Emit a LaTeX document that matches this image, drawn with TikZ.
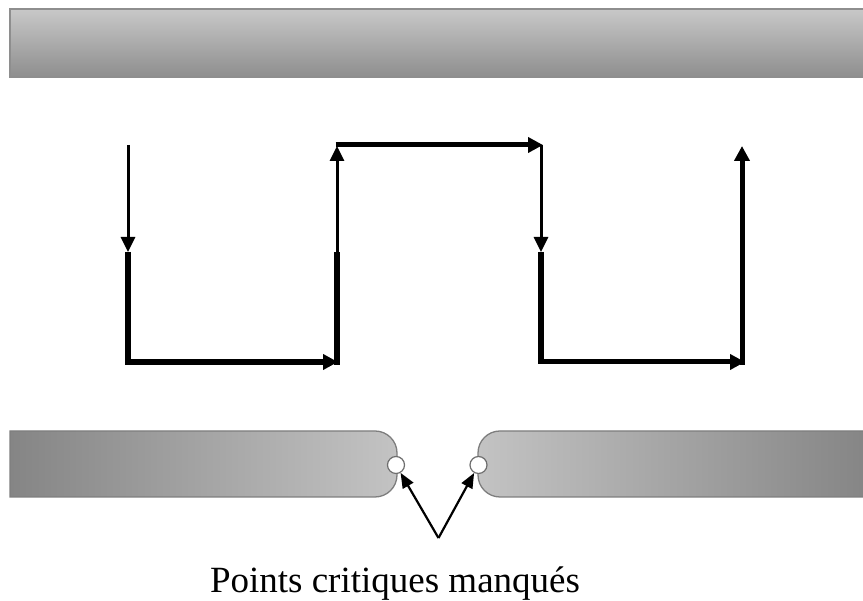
\documentclass[tikz,border=0pt]{standalone}
\usepackage{fontspec}
\setmainfont{Liberation Serif}
\usetikzlibrary{arrows.meta}

\definecolor{barlight}{HTML}{C8C8C8}
\definecolor{bardark}{HTML}{8E8E8E}
\definecolor{barside}{HTML}{858585}
\definecolor{barmid}{HTML}{C3C3C3}
\definecolor{baredge}{HTML}{7E7E7E}
\definecolor{ringedge}{HTML}{6E6E6E}

\tikzset{
  wavethin/.style={line width=3pt, -{Triangle[length=15pt,width=14pt]}},
  wavethick/.style={line width=5.4pt, line join=miter},
  wavearrow/.style={line width=5pt, line join=miter, -{Triangle[length=15pt,width=15pt]}},
  bar/.style={draw=baredge, line width=1.3pt},
  ring/.style={circle, draw=ringedge, fill=white, line width=1.2pt, minimum size=17pt, inner sep=0pt},
  pointer/.style={line width=2.2pt, -{Triangle[length=15pt,width=12pt]}},
  caption/.style={font=\fontsize{37}{40}\selectfont, inner sep=0pt, anchor=base}
}

\begin{document}
\begin{tikzpicture}[x=1pt, y=1pt]
  \useasboundingbox (0,0) rectangle (863,601);
  \fill[white] (0,0) rectangle (863,601);

  % upper plate
  \path[top color=barlight, bottom color=bardark, draw=bardark, line width=1.8pt]
    (10,592) rectangle (868,524);

  % lower plates with rounded inner ends
  \path[bar, left color=barside, right color=barmid]
    (10,170) -- (375,170) arc[start angle=90, end angle=0, radius=22]
    -- (397,126) arc[start angle=0, end angle=-90, radius=22]
    -- (10,104) -- cycle;
  \path[bar, left color=barmid, right color=barside]
    (868,170) -- (500,170) arc[start angle=90, end angle=180, radius=22]
    -- (478,126) arc[start angle=180, end angle=270, radius=22]
    -- (868,104) -- cycle;

  % critical points
  \node[ring] (lc) at (396,136) {};
  \node[ring] (rc) at (478.5,136) {};

  % waveform corners
  \coordinate (a0) at (128,456);
  \coordinate (a1) at (128,349);
  \coordinate (a2) at (128,239);
  \coordinate (b0) at (337,239);
  \coordinate (b1) at (337,349);
  \coordinate (b2) at (337,455);
  \coordinate (c0) at (541,456);
  \coordinate (c1) at (541,349);
  \coordinate (c2) at (541,239);
  \coordinate (d0) at (742,239);
  \coordinate (d1) at (742,455);

  % first falling edge and low level
  \draw[wavethin] (a0) -- (a1);
  \draw[wavethick] (a1) -- (a2) -- ([xshift=-8pt]b0);
  \draw[wavearrow] ([xshift=-2pt]a2) -- ([xshift=1pt]b0);
  % rising edge and high level
  \draw[wavethick] ([yshift=-2.7pt]b0) -- (b1);
  \draw[wavethin] (b1) -- (b2);
  \draw[wavearrow] ([xshift=-1.5pt]c0 -| b2) -- ([xshift=2pt]c0);
  % second falling edge and low level
  \draw[wavethin] (c0) -- (c1);
  \draw[wavethick] (c1) -- (c2);
  \draw[wavearrow] ([xshift=-2.7pt]c2) -- ([xshift=3pt]d0);
  % final rising edge
  \draw[wavearrow] ([yshift=-2.7pt]d0) -- (d1);

  % pointers to the missed points
  \coordinate (apex) at (438.5,63);
  \draw[pointer] (apex) -- (lc);
  \draw[pointer] (apex) -- (rc);

  \node[caption] (cap) at (395,8) {Points critiques manqués};
\end{tikzpicture}
\end{document}
